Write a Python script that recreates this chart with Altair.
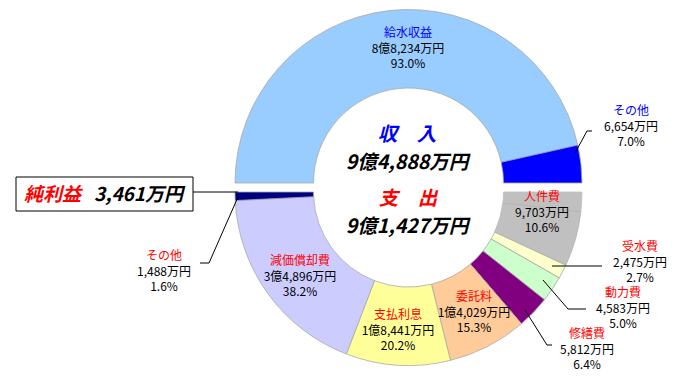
import math
import altair as alt
import pandas as pd

# ---------------- data ----------------
top_names = ["給水収益", "その他"]
top_values = [88234, 6654]
top_colors = ["#99CCFF", "#0000FF"]

# expenditure half, listed from the 3 o'clock end round to the 9 o'clock end
bottom_names = ["純利益", "人件費", "受水費", "動力費", "修繕費", "委託料", "支払利息", "減価償却費", "その他"]
bottom_values = [3461, 9703, 2475, 4583, 5812, 14029, 18441, 34896, 1488]
bottom_colors = ["#C0C0C0", "#C0C0C0", "#FFFFCC", "#CCFFCC", "#800080", "#FFCC99", "#FFFF99", "#CCCCFF", "#000080"]
bottom_strokes = ["#C0C0C0", "#B0B0B0", "#A8A8A8", "#A8A8A8", "#A8A8A8", "#A8A8A8", "#A8A8A8", "#A8A8A8", "#A8A8A8"]

income_total = "9億4,888万円"
expense_total = "9億1,427万円"
profit_text = "3,461万円"

# label texts: name, amount, percent
label_names = ["給水収益", "その他", "人件費", "減価償却費", "支払利息", "委託料", "受水費", "動力費", "修繕費", "その他"]
label_amounts = ["8億8,234万円", "6,654万円", "9,703万円", "3億4,896万円", "1億8,441万円", "1億4,029万円",
                 "2,475万円", "4,583万円", "5,812万円", "1,488万円"]
label_pcts = ["93.0%", "7.0%", "10.6%", "38.2%", "20.2%", "15.3%", "2.7%", "5.0%", "6.4%", "1.6%"]
label_name_colors = ["#0000FF", "#0000FF"] + ["#FF0000"] * 8

# ---------------- layout (page pixels) ----------------
OFF = 8
FONT = "Noto Sans CJK JP"
label_pos = [(408, 33), (631, 111), (542, 197), (300, 261), (398, 315), (474, 297),
             (640, 247), (623, 293), (587, 334), (164, 256)]
line_gap = 15.5

top_center = (408.5, 183)
bottom_center = (408.5, 192)
R_OUT, R_IN = 173.5, 95

leaders = [
    (575, 153, 587, 131), (587, 131, 592, 131),
    (552, 266, 602, 266),
    (543, 280, 568, 309), (568, 309, 586, 309),
    (525, 310, 547, 345), (547, 345, 552, 345),
    (238, 197, 209, 263), (209, 263, 200, 263),
    (193, 192, 238, 192),
]

# ---------------- rings ----------------
top_df = pd.DataFrame({"name": top_names, "value": top_values, "color": top_colors,
                       "stroke": ["#A8A8A8"] * len(top_names), "idx": range(len(top_names))})
bot_df = pd.DataFrame({"name": bottom_names, "value": bottom_values, "color": bottom_colors,
                       "stroke": bottom_strokes, "idx": range(len(bottom_names))})


def ring(df, rng, center):
    total = float(df["value"].sum())
    return alt.Chart(df).mark_arc(innerRadius=R_IN, outerRadius=R_OUT, strokeWidth=0.8).encode(
        theta=alt.Theta("value:Q", stack=True,
                        scale=alt.Scale(domain=[0, total], range=rng, nice=False, zero=True)),
        order=alt.Order("idx:Q"),
        color=alt.Color("color:N", scale=None),
        stroke=alt.Stroke("stroke:N", scale=None),
        x=alt.value(center[0] - OFF),
        y=alt.value(center[1] - OFF),
    )


top_ring = ring(top_df, [1.5 * math.pi, 2.5 * math.pi], top_center)
bot_ring = ring(bot_df, [0.5 * math.pi, 1.5 * math.pi], bottom_center)

# ---------------- labels ----------------
rows = []
for i, (nm, am, pc) in enumerate(zip(label_names, label_amounts, label_pcts)):
    x, y = label_pos[i]
    rows.append({"t": nm, "x": x - OFF, "y": y - OFF, "c": label_name_colors[i]})
    rows.append({"t": am, "x": x - OFF, "y": y + line_gap - OFF, "c": "#000000"})
    rows.append({"t": pc, "x": x - OFF, "y": y + 2 * line_gap - OFF, "c": "#000000"})
lab_df = pd.DataFrame(rows)

small = alt.Chart(lab_df).mark_text(font=FONT, fontSize=12, align="center", baseline="middle").encode(
    x=alt.X("x:Q", scale=None, axis=None), y=alt.Y("y:Q", scale=None, axis=None),
    text="t:N", color=alt.Color("c:N", scale=None))

big_df = pd.DataFrame({
    "t": ["収\u3000入", income_total, "支\u3000出", expense_total],
    "x": [407 - OFF, 407 - OFF, 408 - OFF, 407 - OFF],
    "y": [135 - OFF, 163 - OFF, 199 - OFF, 227 - OFF],
    "c": ["#0000FF", "#000000", "#FF0000", "#000000"],
})
big = alt.Chart(big_df).mark_text(font=FONT, fontSize=19.5, fontWeight="bold", fontStyle="italic",
                                  align="center", baseline="middle").encode(
    x=alt.X("x:Q", scale=None, axis=None), y=alt.Y("y:Q", scale=None, axis=None),
    text="t:N", color=alt.Color("c:N", scale=None))

# profit box
box_df = pd.DataFrame({"x": [16 - OFF], "y": [177 - OFF], "x2": [193 - OFF], "y2": [211 - OFF]})
box = alt.Chart(box_df).mark_rect(fill="white", stroke="black", strokeWidth=1).encode(
    x=alt.X("x:Q", scale=None, axis=None), x2="x2:Q",
    y=alt.Y("y:Q", scale=None, axis=None), y2="y2:Q")

box_txt_df = pd.DataFrame({"t": ["純利益", profit_text], "x": [24 - OFF, 94 - OFF],
                           "y": [195 - OFF, 195 - OFF], "c": ["#FF0000", "#000000"]})
box_txt = alt.Chart(box_txt_df).mark_text(font=FONT, fontSize=19, fontWeight="bold", fontStyle="italic",
                                          align="left", baseline="middle").encode(
    x=alt.X("x:Q", scale=None, axis=None), y=alt.Y("y:Q", scale=None, axis=None),
    text="t:N", color=alt.Color("c:N", scale=None))

lead_df = pd.DataFrame([{"x": a - OFF, "y": b - OFF, "x2": c - OFF, "y2": d - OFF} for a, b, c, d in leaders])
lead = alt.Chart(lead_df).mark_rule(color="black", strokeWidth=1).encode(
    x=alt.X("x:Q", scale=None, axis=None), x2="x2:Q",
    y=alt.Y("y:Q", scale=None, axis=None), y2="y2:Q")

chart = alt.layer(top_ring, bot_ring, lead, box, small, big, box_txt).resolve_scale(
    theta="independent"
).properties(
    width=664, height=364, padding=0, autosize=alt.AutoSizeParams(type="none"), background="white"
).configure_view(stroke=None)

chart.save("out.html", embed_options={"renderer": "svg", "actions": False})
